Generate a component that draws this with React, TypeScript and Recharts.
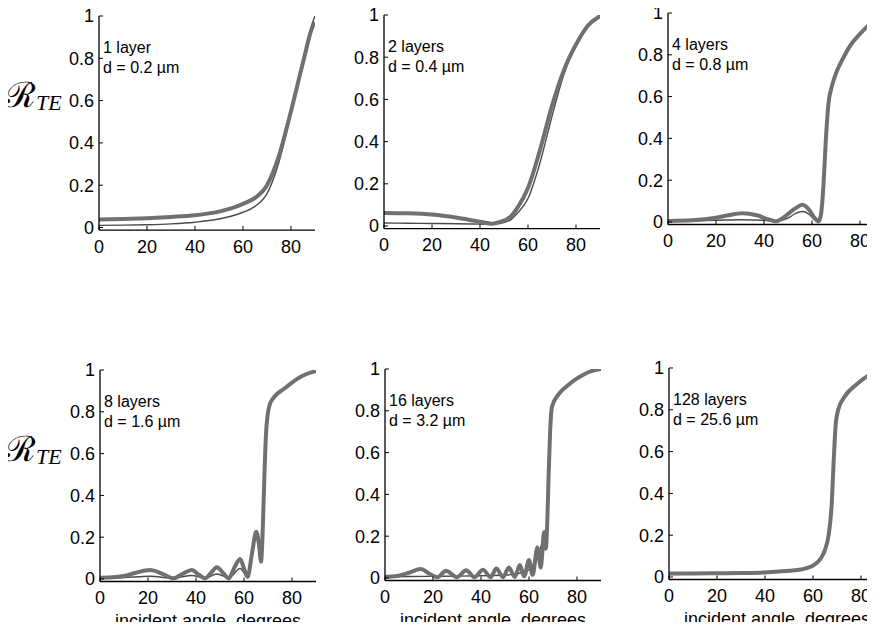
import React from 'react';
import { LineChart, Line, XAxis, YAxis } from 'recharts';

const FONT = '"Liberation Sans", Arial, Helvetica, sans-serif';
const THICK = '#707070';
const THIN = '#4a4a4a';

const X_TICKS = [0, 20, 40, 60, 80];
const Y_TICKS = [0, 0.2, 0.4, 0.6, 0.8, 1];

// 1 layer, d = 0.2 um
const a1 = [0, 10, 20, 30, 40, 50, 55, 60, 65, 70, 75, 80, 85, 89, 90];
const thick1 = [0.038, 0.04, 0.044, 0.05, 0.058, 0.075, 0.09, 0.112, 0.14, 0.2, 0.34, 0.55, 0.78, 0.95, 0.97];
const thin1 = [0.01, 0.011, 0.013, 0.017, 0.025, 0.04, 0.053, 0.072, 0.1, 0.16, 0.31, 0.54, 0.79, 0.97, 1.0];

// 2 layers, d = 0.4 um
const a2 = [0, 10, 20, 30, 40, 45, 48, 52.6, 55.5, 60, 65, 70, 75, 80, 85, 90];
const thick2 = [0.062, 0.06, 0.054, 0.04, 0.02, 0.011, 0.018, 0.043, 0.085, 0.18, 0.36, 0.57, 0.74, 0.86, 0.95, 0.995];
const thin2 = [0.014, 0.013, 0.012, 0.011, 0.009, 0.008, 0.011, 0.028, 0.06, 0.13, 0.3, 0.52, 0.72, 0.86, 0.95, 1.0];

// 4 layers, d = 0.8 um
const a3 = [0, 10, 20, 25, 31, 37, 42, 45, 48, 53, 56, 59, 61, 62.8, 63.8, 64.8, 65.8, 66.8, 68.3, 70.3, 72.8, 76, 80, 85, 90];
const thick3 = [0.005, 0.008, 0.02, 0.032, 0.042, 0.032, 0.012, 0.003, 0.02, 0.065, 0.082, 0.055, 0.02, 0.003, 0.04, 0.18, 0.4, 0.56, 0.65, 0.72, 0.78, 0.845, 0.9, 0.955, 0.99];
const a3thin = [0, 10, 20, 30, 40, 45, 50, 53, 56, 59, 61, 62.8, 63.8, 64.8, 65.8, 66.8, 68.3, 70.3, 72.8, 76, 80, 85, 90];
const thin3 = [0.005, 0.006, 0.008, 0.011, 0.008, 0.003, 0.018, 0.04, 0.05, 0.035, 0.012, 0.003, 0.04, 0.18, 0.4, 0.56, 0.65, 0.72, 0.78, 0.845, 0.9, 0.955, 0.99];

// 8 layers, d = 1.6 um
const a4 = [0, 5, 10, 15, 20.8, 26, 30.5, 34.5, 38.2, 41.2, 43.8, 46.3, 48.7, 51.2, 53.6, 56, 58.4, 60, 61.5, 63.3, 65.1, 66.2, 67.1, 67.7, 68.2, 68.7, 69.2, 69.8, 70.6, 72.5, 76.7, 80, 84, 90];
const thick4 = [0.006, 0.008, 0.014, 0.03, 0.043, 0.025, 0.003, 0.025, 0.043, 0.02, 0.003, 0.03, 0.056, 0.03, 0.003, 0.055, 0.096, 0.05, 0.01, 0.12, 0.226, 0.17, 0.083, 0.2, 0.38, 0.56, 0.7, 0.78, 0.83, 0.87, 0.91, 0.94, 0.97, 0.995];
const a4thin = [0, 10, 20.8, 30.5, 38.2, 43.8, 48.7, 53.6, 58.4, 61.5, 65.1, 67.1, 67.7, 68.2, 68.7, 69.2, 69.8, 70.6, 72.5, 76.7, 80, 84, 90];
const thin4 = [0.004, 0.007, 0.013, 0.004, 0.017, 0.004, 0.024, 0.005, 0.05, 0.01, 0.2, 0.083, 0.2, 0.38, 0.56, 0.7, 0.78, 0.83, 0.87, 0.91, 0.94, 0.97, 0.995];

// 16 layers, d = 3.2 um
const a5 = [0, 5, 10, 14.9, 18.5, 21.9, 25.4, 30, 33.8, 37.3, 40.8, 44, 46.4, 49.2, 51.6, 54.1, 56.2, 58, 60, 61.5, 63.5, 64.9, 66.3, 67, 67.7, 68.2, 68.8, 69.6, 72.4, 76, 79.4, 86, 90];
const thick5 = [0.006, 0.01, 0.025, 0.043, 0.02, 0.004, 0.035, 0.004, 0.037, 0.004, 0.04, 0.004, 0.045, 0.004, 0.05, 0.005, 0.062, 0.008, 0.086, 0.015, 0.146, 0.05, 0.22, 0.14, 0.3, 0.5, 0.7, 0.82, 0.88, 0.92, 0.95, 0.99, 1.0];
const a5thin = [0, 10, 20, 30, 40, 50, 55, 60, 63.5, 66.3, 67, 67.7, 68.2, 68.8, 69.6, 72.4, 76, 79.4, 86, 90];
const thin5 = [0.005, 0.007, 0.008, 0.009, 0.011, 0.014, 0.02, 0.04, 0.1, 0.18, 0.14, 0.3, 0.5, 0.7, 0.82, 0.88, 0.92, 0.95, 0.99, 1.0];

// 128 layers, d = 25.6 um
const a6 = [0, 10, 20, 30, 40, 46.6, 50, 55, 59.2, 63, 65, 66.5, 67.8, 68.6, 69.4, 70.5, 73, 78, 84, 90];
const thick6 = [0.017, 0.017, 0.018, 0.019, 0.022, 0.027, 0.03, 0.036, 0.05, 0.085, 0.13, 0.2, 0.35, 0.55, 0.72, 0.8, 0.86, 0.92, 0.97, 1.0];
const thin6 = [0.012, 0.013, 0.014, 0.016, 0.02, 0.025, 0.028, 0.035, 0.05, 0.085, 0.13, 0.2, 0.35, 0.55, 0.72, 0.8, 0.86, 0.92, 0.97, 1.0];

const pts = (a: number[], v: number[]) => a.map((x, i) => ({ a: x, r: v[i] }));

const PLOT_W = 216;
const Y_AXIS_W = 60;
const M_TOP = 10;
const M_RIGHT = 10;
const X_AXIS_H = 62;

const panels = [
  { x0: 99, y1: 15.5, unit: 211.5, layers: '1 layer', d: 'd = 0.2 \u00b5m', thick: pts(a1, thick1), thin: pts(a1, thin1), xl: false },
  { x0: 384, y1: 15, unit: 211, layers: '2 layers', d: 'd = 0.4 \u00b5m', thick: pts(a2, thick2), thin: pts(a2, thin2), xl: false },
  { x0: 668, y1: 13, unit: 209, layers: '4 layers', d: 'd = 0.8 \u00b5m', thick: pts(a3, thick3), thin: pts(a3thin, thin3), xl: false },
  { x0: 100, y1: 370, unit: 209, layers: '8 layers', d: 'd = 1.6 \u00b5m', thick: pts(a4, thick4), thin: pts(a4thin, thin4), xl: true },
  { x0: 385, y1: 369, unit: 209, layers: '16 layers', d: 'd = 3.2 \u00b5m', thick: pts(a5, thick5), thin: pts(a5thin, thin5), xl: true },
  { x0: 669, y1: 368, unit: 209, layers: '128 layers', d: 'd = 25.6 \u00b5m', thick: pts(a6, thick6), thin: pts(a6, thin6), xl: true },
];

function Panel({ p }: { p: (typeof panels)[number] }) {
  const plotH = p.unit * 1.012;
  const tick = { fill: '#000', fontSize: 18, fontFamily: FONT };
  return (
    <>
      <div style={{ position: 'absolute', left: p.x0 - Y_AXIS_W, top: p.y1 - M_TOP }}>
        <LineChart
          width={Y_AXIS_W + PLOT_W + M_RIGHT}
          height={M_TOP + plotH + X_AXIS_H}
          margin={{ top: M_TOP, right: M_RIGHT, left: 0, bottom: 0 }}
        >
          <XAxis
            dataKey="a"
            type="number"
            domain={[0, 90]}
            ticks={X_TICKS}
            interval={0}
            allowDataOverflow
            height={X_AXIS_H}
            tickSize={-4}
            tickMargin={14}
            tick={tick}
            axisLine={{ stroke: '#000', strokeWidth: 1.3 }}
            tickLine={{ stroke: '#000' }}
            label={p.xl ? { value: 'incident angle, degrees', position: 'insideBottom', offset: 17, fill: '#000', fontSize: 18, fontFamily: FONT } : undefined}
          />
          <YAxis
            type="number"
            domain={[-0.012, 1]}
            ticks={Y_TICKS}
            interval={0}
            allowDataOverflow
            width={Y_AXIS_W}
            tickSize={-4}
            tickMargin={9}
            tick={tick}
            tickFormatter={(v: number) => String(v)}
            axisLine={{ stroke: '#000', strokeWidth: 1.3 }}
            tickLine={{ stroke: '#000' }}
          />
          <Line data={p.thin} dataKey="r" type="monotone" stroke={THIN} strokeWidth={1.4} dot={false} isAnimationActive={false} />
          <Line data={p.thick} dataKey="r" type="monotone" stroke={THICK} strokeWidth={4} dot={false} isAnimationActive={false} />
        </LineChart>
      </div>
      <div
        style={{
          position: 'absolute',
          left: p.x0 + 4,
          top: p.y1 + 22,
          fontFamily: FONT,
          fontSize: 16,
          lineHeight: '20px',
          color: '#000',
          whiteSpace: 'nowrap',
        }}
      >
        <div>{p.layers}</div>
        <div>{p.d}</div>
      </div>
    </>
  );
}

function RLabel({ top }: { top: number }) {
  return (
    <div style={{ position: 'absolute', left: 5, top, whiteSpace: 'nowrap', color: '#000', lineHeight: 1 }}>
      <span style={{ fontFamily: '"DejaVu Serif", serif', fontSize: 35 }}>{'\u211B'}</span>
      <span style={{ fontFamily: '"Liberation Serif", serif', fontStyle: 'italic', fontSize: 22, position: 'relative', top: 3 }}>TE</span>
    </div>
  );
}

export default function App() {
  return (
    <div style={{ position: 'relative', width: 875, height: 630, margin: -8, overflow: 'hidden', background: '#fff' }}>
      {panels.map((p, i) => (
        <Panel key={i} p={p} />
      ))}
      <RLabel top={78} />
      <RLabel top={432} />
    </div>
  );
}
